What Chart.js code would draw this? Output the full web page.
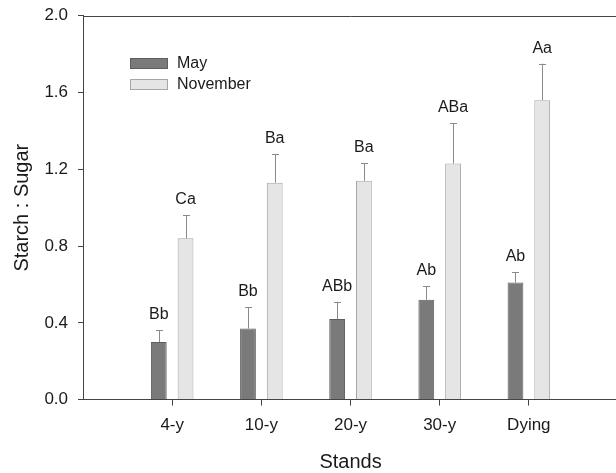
<!DOCTYPE html>
<html>
<head>
<meta charset="utf-8">
<script src="https://cdn.jsdelivr.net/npm/chart.js@4"></script>
<style>
  html, body { margin: 0; padding: 0; background: #fff; overflow: hidden; }
  /* the original plot runs off the right edge, so the canvas is a little wider than the window */
  #wrap { width: 628px; height: 473px; position: relative; }
</style>
</head>
<body>
<div id="wrap"><canvas id="chart"></canvas></div>
<script>
const categories = ['4-y', '10-y', '20-y', '30-y', 'Dying'];
const mayValues = [0.30, 0.37, 0.42, 0.52, 0.61];
const mayErrors = [0.06, 0.11, 0.09, 0.07, 0.055];
const mayLetters = ['Bb', 'Bb', 'ABb', 'Ab', 'Ab'];
const novValues = [0.84, 1.13, 1.14, 1.23, 1.56];
const novErrors = [0.12, 0.15, 0.09, 0.21, 0.19];
const novLetters = ['Ca', 'Ba', 'Ba', 'ABa', 'Aa'];
const yTicks = [0.0, 0.4, 0.8, 1.2, 1.6, 2.0];

// one empty slot each side, like the original axis range
const pad = arr => [null, ...arr, null];
const labels = ['', ...categories, ''];

const FONT = "'Liberation Sans', Arial, sans-serif";
const AXIS = '#444444';

const errorBars = {
    id: 'errorBars',
    afterDatasetsDraw(chart) {
        const ctx = chart.ctx;
        const y = chart.scales.y;
        ctx.save();
        chart.data.datasets.forEach((ds, di) => {
            const meta = chart.getDatasetMeta(di);
            meta.data.forEach((bar, i) => {
                const v = ds.data[i];
                if (v === null) return;
                const top = y.getPixelForValue(v + ds.errors[i]);
                const x = Math.round(bar.x) + 0.5;
                ctx.strokeStyle = '#8a8a8a';
                ctx.lineWidth = 1;
                ctx.beginPath();
                ctx.moveTo(x, bar.y);
                ctx.lineTo(x, top);
                ctx.moveTo(x - 3.5, Math.round(top) + 0.5);
                ctx.lineTo(x + 3.5, Math.round(top) + 0.5);
                ctx.stroke();
                ctx.fillStyle = '#1a1a1a';
                ctx.font = '16px ' + FONT;
                ctx.textAlign = 'center';
                ctx.textBaseline = 'alphabetic';
                ctx.fillText(ds.letters[i], bar.x, top - 11);
            });
        });
        ctx.restore();
    }
};

const frameAndLegend = {
    id: 'frameAndLegend',
    afterDraw(chart) {
        const ctx = chart.ctx;
        const a = chart.chartArea;
        ctx.save();
        ctx.strokeStyle = AXIS;
        ctx.lineWidth = 1;
        ctx.beginPath();
        ctx.moveTo(a.left, Math.round(a.top) + 0.5);
        ctx.lineTo(a.right, Math.round(a.top) + 0.5);
        ctx.stroke();
        chart.data.datasets.forEach((ds, i) => {
            const by = 58 + i * 21;
            ctx.fillStyle = ds.backgroundColor;
            ctx.strokeStyle = ds.borderColor;
            ctx.fillRect(130, by, 38, 11);
            ctx.strokeRect(130.5, by + 0.5, 37, 10);
            ctx.fillStyle = '#1a1a1a';
            ctx.font = '16px ' + FONT;
            ctx.textAlign = 'left';
            ctx.textBaseline = 'middle';
            ctx.fillText(ds.label, 177, by + 6);
        });
        ctx.restore();
    }
};

new Chart(document.getElementById('chart'), {
    type: 'bar',
    data: {
        labels: labels,
        datasets: [{
            label: 'May',
            data: pad(mayValues),
            errors: pad(mayErrors),
            letters: pad(mayLetters),
            backgroundColor: '#7a7a7a',
            borderColor: '#5e5e5e',
            borderWidth: 1
        }, {
            label: 'November',
            data: pad(novValues),
            errors: pad(novErrors),
            letters: pad(novLetters),
            backgroundColor: '#e5e5e5',
            borderColor: '#a6a6a6',
            borderWidth: 1
        }]
    },
    options: {
        responsive: true,
        maintainAspectRatio: false,
        animation: false,
        categoryPercentage: 0.6,
        barPercentage: 0.59,
        layout: {padding: {left: 6.4, right: 0, top: 1.5, bottom: 0}},
        plugins: {legend: {display: false}, tooltip: {enabled: false}},
        scales: {
            x: {
                offset: false,
                grid: {
                    offset: false,
                    drawOnChartArea: false,
                    tickLength: 6,
                    tickColor: c => (labels[c.index] ? AXIS : 'rgba(0,0,0,0)')
                },
                border: {color: AXIS, width: 1},
                ticks: {autoSkip: false, maxRotation: 0, padding: 10, color: '#1a1a1a', font: {family: FONT, size: 17}},
                title: {display: true, text: 'Stands', color: '#1a1a1a', font: {family: FONT, size: 20, lineHeight: 1.1}, padding: {top: 5, bottom: 0}}
            },
            y: {
                min: 0,
                max: 2.0,
                afterBuildTicks: s => { s.ticks = yTicks.map(v => ({value: v})); },
                grid: {drawOnChartArea: false, tickLength: 5, tickColor: AXIS},
                border: {color: AXIS, width: 1},
                ticks: {padding: 10, color: '#1a1a1a', font: {family: FONT, size: 17, lineHeight: 0.67}, callback: v => v.toFixed(1)},
                title: {display: true, text: 'Starch : Sugar', color: '#1a1a1a', font: {family: FONT, size: 20}, padding: {top: 4, bottom: 0}}
            }
        }
    },
    plugins: [errorBars, frameAndLegend]
});
</script>
</body>
</html>
